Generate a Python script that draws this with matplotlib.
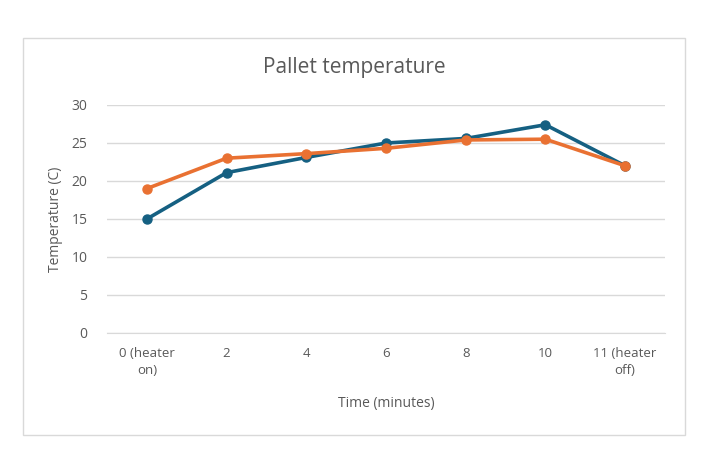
import matplotlib.pyplot as plt
from matplotlib.patches import Rectangle

plt.rcParams['font.family'] = ['Open Sans', 'DejaVu Sans']

categories = ['0 (heater\non)', '2', '4', '6', '8', '10', '11 (heater\noff)']
series_1 = [15.0, 21.1, 23.1, 25.0, 25.6, 27.4, 22.0]
series_2 = [19.0, 23.0, 23.6, 24.3, 25.4, 25.5, 22.0]
yticks = [0, 5, 10, 15, 20, 25, 30]

grey = '#595959'
grid = '#D9D9D9'

fig = plt.figure(figsize=(7.09, 4.72), dpi=100)
fig.patches.append(Rectangle((23 / 709, 1 - 435 / 472), 662 / 709, 397 / 472,
                             transform=fig.transFigure, fill=False,
                             edgecolor=grid, linewidth=1))

ax = fig.add_axes([107 / 709, 1 - 333 / 472, 558 / 709, 228 / 472])
x = range(len(categories))
ax.plot(x, series_1, color='#156082', linewidth=2.6, marker='o', markersize=6.5, zorder=3)
ax.plot(x, series_2, color='#E97132', linewidth=2.6, marker='o', markersize=6.5, zorder=4)

ax.set_xlim(-0.5, len(categories) - 0.5)
ax.set_ylim(0, 30)
ax.set_yticks(yticks)
ax.set_xticks(list(x))
ax.set_xticklabels(categories, fontsize=9.5, color=grey, linespacing=1.4)
ax.tick_params(axis='y', labelsize=10, colors=grey, length=0, pad=14)
ax.tick_params(axis='x', length=0, pad=10)
ax.grid(axis='y', color=grid, linewidth=1)
ax.set_axisbelow(True)
for s in ['top', 'right', 'left']:
    ax.spines[s].set_visible(False)
ax.spines['bottom'].set_color(grid)

fig.text(354 / 709, 1 - 68 / 472, 'Pallet temperature', fontsize=15, color=grey,
         ha='center', va='center')
ax.set_xlabel('Time (minutes)', fontsize=10, color=grey, labelpad=14)
ax.set_ylabel('Temperature (C)', fontsize=10, color=grey, labelpad=6)

fig.savefig('out.png', dpi=100)
